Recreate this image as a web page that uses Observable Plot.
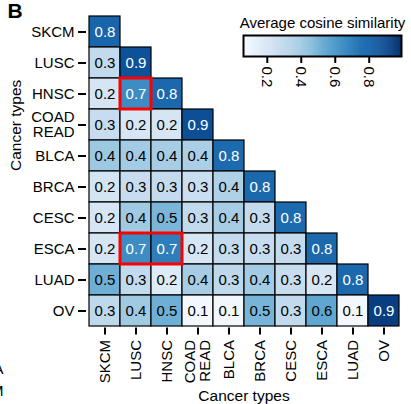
<!DOCTYPE html>
<html><head><meta charset="utf-8">
<script src="https://cdn.jsdelivr.net/npm/d3@7"></script>
<script src="https://cdn.jsdelivr.net/npm/@observablehq/plot@0.6"></script>
<style>
body{margin:0;background:#fff;}
#wrap{position:relative;width:411px;height:404px;overflow:hidden;}
#legend{position:absolute;left:225px;top:0;}
</style></head><body><div id="wrap"><div id="main"></div><div id="legend"></div></div>
<script>
const categories = ["SKCM","LUSC","HNSC","COAD READ","BLCA","BRCA","CESC","ESCA","LUAD","OV"];
// lower-triangular average cosine similarity, one row per category
const similarity = [
  [0.80],
  [0.30,0.87],
  [0.22,0.66,0.79],
  [0.28,0.21,0.22,0.88],
  [0.41,0.39,0.38,0.37,0.78],
  [0.23,0.28,0.29,0.27,0.36,0.79],
  [0.21,0.40,0.49,0.30,0.38,0.29,0.78],
  [0.22,0.66,0.71,0.21,0.29,0.28,0.29,0.79],
  [0.52,0.30,0.18,0.38,0.31,0.39,0.28,0.21,0.79],
  [0.31,0.40,0.52,0.08,0.09,0.50,0.30,0.56,0.08,0.94]
];
const highlights = [
  {row:"HNSC", from:"LUSC", to:"LUSC"},
  {row:"ESCA", from:"LUSC", to:"HNSC"}
];
const colorDomain = [0.06, 0.99];
const legendTicks = [0.2,0.4,0.6,0.8];
const legendTitle = "Average cosine similarity";
const axisTitle = "Cancer types";
const panelLetter = "B";

const table = [];
similarity.forEach((row, i) => row.forEach((v, j) => table.push({row: categories[i], col: categories[j], v})));
const fmtCat = d => d.replace(" ", "\n");
const font = "'Liberation Sans', Arial, Helvetica, sans-serif";

const main = Plot.plot({
  width: 411, height: 404,
  marginLeft: 86, marginRight: 10, marginTop: 13.5, marginBottom: 76.5,
  style: {fontFamily: font, fontSize: "15px", color: "black", background: "white", overflow: "hidden"},
  x: {domain: categories, padding: 0, axis: null},
  y: {domain: categories, padding: 0, axis: null},
  color: {type: "linear", scheme: "blues", domain: colorDomain},
  marks: [
    Plot.cell(table, {x: "col", y: "row", fill: "v", stroke: "black", strokeWidth: 1.2}),
    Plot.text(table, {filter: d => d.v <= 0.6, x: "col", y: "row", text: d => d.v.toFixed(1), fill: "black", fontSize: 15}),
    Plot.text(table, {filter: d => d.v > 0.6, x: "col", y: "row", text: d => d.v.toFixed(1), fill: "white", fontSize: 15}),
    Plot.rect(highlights, {x1: "from", x2: "to", y: "row", stroke: "#f00", strokeWidth: 3, fill: "none"}),
    Plot.axisX({tickRotate: -90, tickSize: 7, tickPadding: 5, tickFormat: fmtCat, strokeWidth: 2, label: null, fontSize: 15}),
    Plot.axisY({tickSize: 8, tickPadding: 4, tickFormat: fmtCat, strokeWidth: 2, label: null, fontSize: 15}),
    Plot.text([axisTitle], {frameAnchor: "bottom", dy: 68.5, lineAnchor: "middle", fontSize: 15.5}),
    Plot.text([axisTitle], {frameAnchor: "left", dx: -77, rotate: -90, lineAnchor: "top", fontSize: 15.5}),
    Plot.text([panelLetter], {frameAnchor: "top-left", dx: -79, dy: -10.5, textAnchor: "start", lineAnchor: "top", fontSize: 21, fontWeight: "bold"}),
    Plot.text(["A"], {frameAnchor: "bottom-left", dx: -83, dy: 41.5, textAnchor: "end", lineAnchor: "middle", fontSize: 15}),
    Plot.text(["M"], {frameAnchor: "bottom-left", dx: -83, dy: 63.5, textAnchor: "end", lineAnchor: "middle", fontSize: 15})
  ]
});
document.getElementById("main").appendChild(main);

const n = 160;
const step = (colorDomain[1] - colorDomain[0]) / n;
const ramp = d3.range(n).map(i => ({a: colorDomain[0] + step * i, b: colorDomain[0] + step * (i + 1)}));
const legend = Plot.plot({
  width: 186, height: 95,
  marginLeft: 18, marginRight: 10, marginTop: 35, marginBottom: 39,
  style: {fontFamily: font, fontSize: "15px", color: "black", background: "transparent", overflow: "visible"},
  x: {domain: colorDomain, axis: null},
  color: {type: "linear", scheme: "blues", domain: colorDomain},
  marks: [
    Plot.rect(ramp, {x1: "a", x2: d => Math.min(d.b + step * 0.5, colorDomain[1]), fill: d => (d.a + d.b) / 2}),
    Plot.frame({stroke: "black", strokeWidth: 2}),
    Plot.axisX({ticks: legendTicks, tickFormat: d3.format(".1f"), tickRotate: 90, tickSize: 7, tickPadding: 3, strokeWidth: 2, label: null, fontSize: 15}),
    Plot.text([legendTitle], {frameAnchor: "top", dy: -12.5, lineAnchor: "middle", fontSize: 15})
  ]
});
document.getElementById("legend").appendChild(legend);
</script></body></html>
